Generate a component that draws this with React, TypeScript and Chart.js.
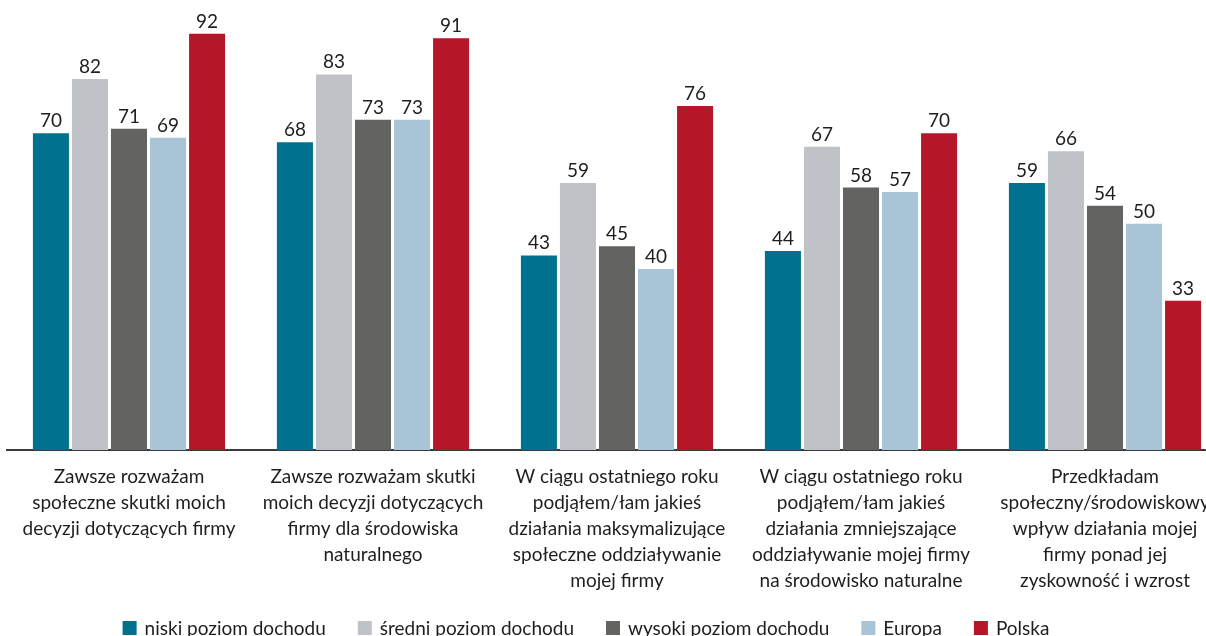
import React, { useEffect, useRef } from "react";
import { Chart, registerables } from "chart.js";

Chart.register(...registerables);

const categories: string[][] = [
  ["Zawsze rozważam", "społeczne skutki moich", "decyzji dotyczących firmy"],
  ["Zawsze rozważam skutki", "moich decyzji dotyczących", "firmy dla środowiska", "naturalnego"],
  ["W ciągu ostatniego roku", "podjąłem/łam jakieś", "działania maksymalizujące", "społeczne oddziaływanie", "mojej firmy"],
  ["W ciągu ostatniego roku", "podjąłem/łam jakieś", "działania zmniejszające", "oddziaływanie mojej firmy", "na środowisko naturalne"],
  ["Przedkładam", "społeczny/środowiskowy", "wpływ działania mojej", "firmy ponad jej", "zyskowność i wzrost"],
];

const seriesNames = ["niski poziom dochodu", "średni poziom dochodu", "wysoki poziom dochodu", "Europa", "Polska"];
const niski = [70, 68, 43, 44, 59];
const sredni = [82, 83, 59, 67, 66];
const wysoki = [71, 73, 45, 58, 54];
const europa = [69, 73, 40, 57, 50];
const polska = [92, 91, 76, 70, 33];
const colors = ["#00728F", "#BFC3C7", "#636362", "#A7C5D7", "#B51728"];

const FONT = "Lato";
const TEXT = "#1e1e1e";

const valueLabels = {
  id: "valueLabels",
  afterDatasetsDraw(chart: any) {
    const ctx = chart.ctx;
    ctx.save();
    ctx.font = `19px ${FONT}`;
    ctx.fillStyle = TEXT;
    ctx.textAlign = "center";
    ctx.textBaseline = "alphabetic";
    chart.data.datasets.forEach((ds: any, di: number) => {
      const meta = chart.getDatasetMeta(di);
      meta.data.forEach((el: any, i: number) => {
        ctx.fillText(String(ds.data[i]), el.x, el.y - 6);
      });
    });
    ctx.restore();
  },
};

const customLegend = {
  id: "customLegend",
  afterDraw(chart: any) {
    const ctx = chart.ctx;
    ctx.save();
    ctx.font = `19px ${FONT}`;
    const box = 14;
    const gapBox = 8;
    const gapItem = 32;
    const items = chart.data.datasets.map((ds: any) => ({
      label: ds.label,
      color: ds.backgroundColor,
      w: ctx.measureText(ds.label).width,
    }));
    const total = items.reduce((s: number, it: any) => s + box + gapBox + it.w, 0) + gapItem * (items.length - 1);
    let x = 586 - total / 2;
    const boxTop = 621;
    items.forEach((it: any) => {
      ctx.fillStyle = it.color;
      ctx.fillRect(x, boxTop, box, box);
      x += box + gapBox;
      ctx.fillStyle = TEXT;
      ctx.textAlign = "left";
      ctx.textBaseline = "middle";
      ctx.fillText(it.label, x, boxTop + 8);
      x += it.w + gapItem;
    });
    ctx.restore();
  },
};

export default function App() {
  const ref = useRef<HTMLCanvasElement | null>(null);
  useEffect(() => {
    if (!ref.current) return;
    const data = [niski, sredni, wysoki, europa, polska];
    const chart = new Chart(ref.current, {
      type: "bar",
      data: {
        labels: categories,
        datasets: seriesNames.map((name, i) => ({
          label: name,
          data: data[i],
          backgroundColor: colors[i],
          borderWidth: 0,
          categoryPercentage: 0.8,
          barPercentage: 0.923,
        })),
      },
      options: {
        animation: false,
        responsive: false,
        maintainAspectRatio: false,
        layout: { padding: { left: 7, right: 1, top: 2, bottom: 0 } },
        plugins: {
          legend: { display: false },
          tooltip: { enabled: false },
        },
        scales: {
          x: {
            grid: { display: false },
            border: { display: true, color: "#3a3a3a", width: 2 },
            ticks: {
              autoSkip: false,
              maxRotation: 0,
              minRotation: 0,
              color: TEXT,
              padding: 6,
              font: { family: FONT, size: 19, lineHeight: 1.37 },
            },
            afterFit(scale: any) {
              scale.height = 186;
            },
          },
          y: {
            display: false,
            min: 0,
            max: 99,
          },
        },
      },
      plugins: [valueLabels, customLegend],
    });
    return () => chart.destroy();
  }, []);
  return (
    <div style={{ position: "absolute", left: 0, top: 0, width: 1206, height: 636, overflow: "hidden", background: "#fff" }}>
      <canvas ref={ref} width={1228} height={636} style={{ width: 1228, height: 636, display: "block" }} />
    </div>
  );
}
